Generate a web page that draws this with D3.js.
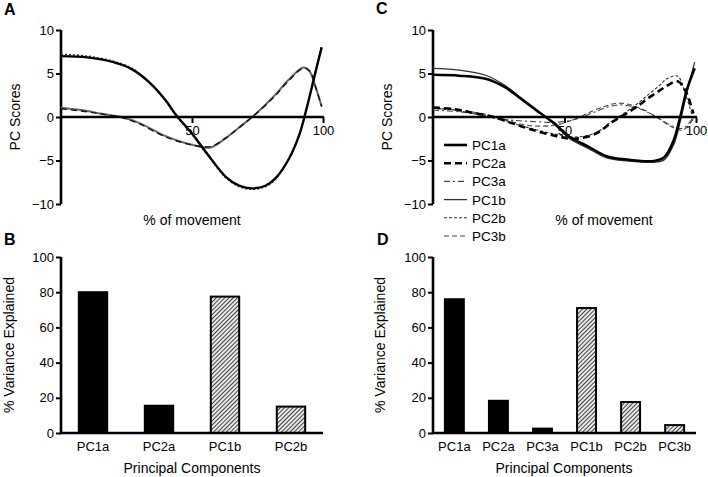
<!DOCTYPE html>
<html><head><meta charset="utf-8">
<script src="https://cdn.jsdelivr.net/npm/d3@7"></script>
<style>body{margin:0;background:#fff}svg{display:block;font-family:"Liberation Sans",Arial,sans-serif}</style>
</head><body><svg id="c" width="708" height="477"></svg>
<script>
// ---- Panel A data (% of movement vs PC score) ----
const aPC1x = [0,10,20,27,34,40,44,50,56,63,68,73,78,82,87,91,94,97,99.5];
const aPC1a = [7.0,6.85,6.3,5.5,3.9,1.9,0.2,-1.9,-4.3,-6.9,-7.9,-8.2,-7.9,-7.0,-4.8,-2.0,1.3,5.0,8.0];
const aPC1b = [7.2,7.0,6.4,5.6,3.9,1.8,0.1,-2.0,-4.4,-7.0,-8.0,-8.3,-8.0,-7.1,-4.8,-2.0,1.3,5.0,8.2];
const aPC2x = [0,10,15,23,30,40,50,57,63,68,73,81,87,92.5,95,97,99.5];
const aPC2a = [1.05,0.7,0.4,0.0,-0.7,-2.2,-3.2,-3.5,-2.4,-1.2,0,2.3,4.3,5.7,5.2,3.6,1.2];
const aPC2b = [0.95,0.6,0.35,-0.05,-0.8,-2.3,-3.2,-3.4,-2.4,-1.2,0,2.2,4.2,5.6,5.3,3.6,1.2];
// ---- Panel C data ----
const cPC1x = [0,10,20,27,33,41,46,52,59,66,74,84,88,91.5,94,96.5,99.5];
const cPC1a = [4.85,4.75,4.4,3.5,2.2,0.4,-0.7,-2.3,-3.4,-4.5,-4.9,-5.05,-4.6,-2.7,0,3.1,5.6];
const cPC1b = [5.6,5.4,4.8,3.7,2.3,0.4,-0.8,-2.5,-3.6,-4.7,-5.05,-5.2,-4.9,-3.2,-0.5,2.8,6.3];
const cPC2x = [0,8,15,23,30,37,47,54,62,68,73,78,82,86,89,93,96,99];
const cPC2a = [1.1,0.9,0.5,0,-0.7,-1.4,-2.2,-2.5,-1.9,-0.6,0.3,1.3,2.2,3.0,3.6,4.1,3.0,0.4];
const cPC2b = [1.0,0.8,0.4,-0.1,-0.7,-1.3,-2.0,-2.3,-1.8,-0.5,0.5,1.6,2.6,3.6,4.4,4.7,2.6,-0.3];
const cPC3x = [0,10,20,28,37,47,55,60,66,71,78,85,90,95,99];
const cPC3a = [0.8,0.6,0.2,-0.3,-0.5,-0.6,-0.2,0.4,1.1,1.4,1.0,0,-0.9,-1.3,0];
const cPC3b = [1.0,0.8,0.3,-0.4,-1.0,-0.9,-0.1,0.6,1.3,1.6,1.1,0,-1.0,-1.5,-0.2];
// ---- Panel B / D data (% variance explained) ----
const bCats = ["PC1a","PC2a","PC1b","PC2b"];
const bVals = [80,15.5,77.5,15];
const dCats = ["PC1a","PC2a","PC3a","PC1b","PC2b","PC3b"];
const dVals = [76,18.3,2.5,71,17.6,4.5];
const lineYTicks = [-10,-5,0,5,10];
const lineXTicks = [50,100];
const barYTicks = [0,20,40,60,80,100];
const legendNames = ["PC1a","PC2a","PC3a","PC1b","PC2b","PC3b"];

const svg = d3.select("#c");
const defs = svg.append("defs");
const pat = defs.append("pattern").attr("id","hatch").attr("patternUnits","userSpaceOnUse")
  .attr("width",3).attr("height",3).attr("patternTransform","rotate(45)");
pat.append("rect").attr("width",3).attr("height",3).attr("fill","#eaeaea");
pat.append("line").attr("x1",0).attr("y1",0).attr("x2",0).attr("y2",3).attr("stroke","#222").attr("stroke-width",1.7);

const styles = {
  PC1a:{stroke:"#000",w:2.6,dash:null},
  PC2a:{stroke:"#000",w:2.6,dash:"7,4"},
  PC3a:{stroke:"#444",w:1.1,dash:"6,3,2,3"},
  PC1b:{stroke:"#333",w:1.3,dash:null},
  PC2b:{stroke:"#333",w:1.1,dash:"3,2"},
  PC3b:{stroke:"#444",w:1.1,dash:"5,3"}
};

function letter(t,x,y){svg.append("text").attr("x",x).attr("y",y).attr("font-size",16).attr("font-weight","bold").text(t);}

function linePanel(x0,x1,series,xTitleX){
  const x = d3.scaleLinear().domain([0,100]).range([x0,x1]);
  const y = d3.scaleLinear().domain([-10,10]).range([204,30]);
  const g = svg.append("g");
  const yAx = g.append("g").attr("transform",`translate(${x0},0)`)
    .call(d3.axisLeft(y).tickValues(lineYTicks).tickSize(5).tickPadding(2).tickFormat(d3.format("d")));
  yAx.select(".domain").attr("stroke-width",2.6).attr("d",`M0,${y(10)}V${y(-10)}`);
  yAx.selectAll(".tick line").attr("stroke-width",2);
  yAx.selectAll("text").attr("font-size",13).attr("font-family","Liberation Sans, Arial");
  const line = d3.line().curve(d3.curveCatmullRom.alpha(0.5));
  series.forEach(s=>{
    const st = s.style;
    g.append("path").attr("d",line(s.xs.map((v,i)=>[x(v),y(s.ys[i])])))
      .attr("fill","none").attr("stroke",st.stroke).attr("stroke-width",st.w)
      .attr("stroke-dasharray",st.dash).attr("stroke-linejoin","round");
  });
  const xAx = g.append("g").attr("transform",`translate(0,${y(0)})`)
    .call(d3.axisBottom(x).tickValues(lineXTicks).tickSize(6).tickPadding(3));
  xAx.select(".domain").attr("stroke-width",2.6).attr("d",`M${x0},0H${x(100)+1}`);
  xAx.selectAll(".tick line").attr("stroke-width",2);
  xAx.selectAll("text").attr("font-size",13).attr("font-family","Liberation Sans, Arial");
  svg.append("text").attr("x",xTitleX).attr("y",225).attr("text-anchor","middle").attr("font-size",14).text("% of movement");
  return {x,y};
}

function barPanel(x0,x1,cats,vals,titleX){
  const x = d3.scaleBand().domain(cats).range([x0,x1]).paddingInner(0.57).paddingOuter(0.27);
  const y = d3.scaleLinear().domain([0,100]).range([433,257]);
  const g = svg.append("g");
  g.selectAll("rect").data(cats).join("rect")
    .attr("x",d=>x(d)).attr("width",x.bandwidth())
    .attr("y",(d,i)=>y(vals[i])).attr("height",(d,i)=>y(0)-y(vals[i]))
    .attr("fill",d=>d.endsWith("a")?"#000":"url(#hatch)")
    .attr("stroke","#000").attr("stroke-width",2);
  const yAx = g.append("g").attr("transform",`translate(${x0},0)`)
    .call(d3.axisLeft(y).tickValues(barYTicks).tickSize(5).tickPadding(2));
  yAx.select(".domain").attr("stroke-width",2.6).attr("d",`M0,${y(100)}V${y(0)}`);
  yAx.selectAll(".tick line").attr("stroke-width",2);
  yAx.selectAll("text").attr("font-size",13).attr("font-family","Liberation Sans, Arial");
  const xAx = g.append("g").attr("transform",`translate(0,${y(0)})`)
    .call(d3.axisBottom(x).tickSize(0).tickPadding(9));
  xAx.select(".domain").attr("stroke-width",2.6).attr("d",`M${x0-1},0H${x1}`);
  xAx.selectAll("text").attr("font-size",13).attr("font-family","Liberation Sans, Arial");
  svg.append("text").attr("x",titleX).attr("y",473).attr("text-anchor","middle").attr("font-size",14).text("Principal Components");
}

function yTitle(t,x,y){svg.append("text").attr("transform",`translate(${x},${y}) rotate(-90)`).attr("text-anchor","middle").attr("font-size",14).text(t);}

// Panel A
letter("A",4,15);
linePanel(61,323,[
  {xs:aPC2x,ys:aPC2a,style:{stroke:"#666",w:2,dash:null}},
  {xs:aPC2x,ys:aPC2b,style:{stroke:"#111",w:1.4,dash:"6,4"}},
  {xs:aPC1x,ys:aPC1b,style:{stroke:"#333",w:1.6,dash:"2,2"}},
  {xs:aPC1x,ys:aPC1a,style:{stroke:"#000",w:2.4,dash:null}}
],192);
yTitle("PC Scores",20,117);

// Panel C
letter("C",376,14);
linePanel(433,696,[
  {xs:cPC3x,ys:cPC3b,style:styles.PC3b},
  {xs:cPC3x,ys:cPC3a,style:styles.PC3a},
  {xs:cPC2x,ys:cPC2b,style:styles.PC2b},
  {xs:cPC2x,ys:cPC2a,style:styles.PC2a},
  {xs:cPC1x,ys:cPC1b,style:styles.PC1b},
  {xs:cPC1x,ys:cPC1a,style:styles.PC1a}
],604);
yTitle("PC Scores",392,117);

// Legend
const lg = svg.append("g");
legendNames.forEach((n,i)=>{
  const yy = 145 + i*18.2;
  const st = styles[n];
  lg.append("line").attr("x1",444).attr("x2",467).attr("y1",yy).attr("y2",yy)
    .attr("stroke",st.stroke).attr("stroke-width",st.w).attr("stroke-dasharray",st.dash);
  lg.append("text").attr("x",472).attr("y",yy+5).attr("font-size",13.5).text(n);
});

// Panel B
letter("B",4,245);
barPanel(61,323,bCats,bVals,192);
yTitle("% Variance Explained",14,345);

// Panel D
letter("D",377,245);
barPanel(433,696,dCats,dVals,564);
yTitle("% Variance Explained",385,345);
</script></body></html>
